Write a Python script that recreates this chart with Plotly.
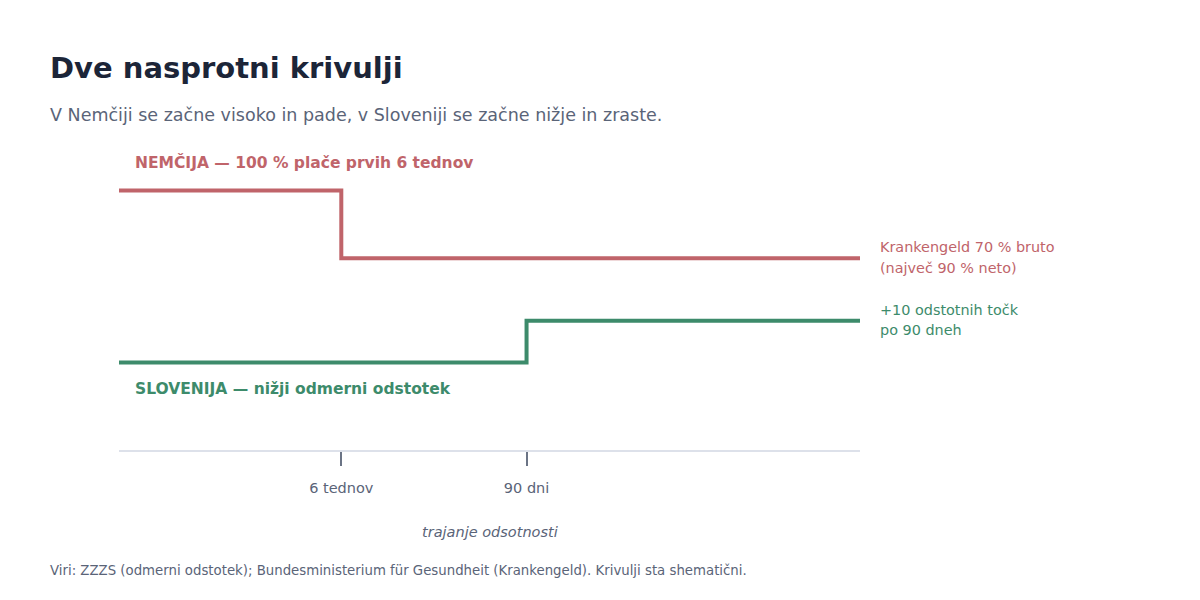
import plotly.graph_objects as go

# schematic time axis (not to scale)
x_pos = [0, 30, 55, 100]
tick_vals = [30, 55]
tick_text = ["6 tednov", "90 dni"]

de_x = [0, 30, 100]
de_y = [99.5, 73.5, 73.5]
si_x = [0, 55, 100]
si_y = [33.5, 49.5, 49.5]

de_note = ["Krankengeld 70 % bruto", "(največ 90 % neto)"]
si_note = ["+10 odstotnih točk", "po 90 dneh"]

RED = "#c0646a"
GREEN = "#3d8b6b"
GREY = "#5a6478"
FONT = "DejaVu Sans"

fig = go.Figure()
fig.add_trace(go.Scatter(x=de_x, y=de_y, mode="lines", line_shape="hv",
                         line=dict(color=RED, width=4), hoverinfo="skip"))
fig.add_trace(go.Scatter(x=si_x, y=si_y, mode="lines", line_shape="hv",
                         line=dict(color=GREEN, width=4), hoverinfo="skip"))

# page body adds an 8px offset, so margins are shifted to compensate
fig.update_layout(
    width=1200, height=600,
    margin=dict(l=111, r=348, t=142, b=158),
    paper_bgcolor="white", plot_bgcolor="white",
    showlegend=False,
    font=dict(family=FONT, color=GREY),
)
fig.update_xaxes(range=[x_pos[0], x_pos[-1]], tickvals=tick_vals, ticktext=tick_text,
                 showgrid=False, zeroline=False, showline=True, linecolor="#dde1ea",
                 linewidth=2, ticks="outside", ticklen=14, tickwidth=2, tickcolor="#6b7485",
                 ticklabelstandoff=10, tickfont=dict(size=14.5, color=GREY))
fig.update_yaxes(range=[0, 115], visible=False)

anns = [
    dict(text="<b>Dve nasprotni krivulji</b>", x=0, xshift=-71, y=1, yshift=82,
         font=dict(size=29, color="#1c2538")),
    dict(text="V Nemčiji se začne visoko in pade, v Sloveniji se začne nižje in zraste.",
         x=0, xshift=-71, y=1, yshift=35, font=dict(size=17.5, color=GREY)),
    dict(text="<b>NEMČIJA — 100 % plače prvih 6 tednov</b>", x=0, xshift=14, y=1, yshift=-12,
         font=dict(size=15.5, color=RED)),
    dict(text="<b>SLOVENIJA — nižji odmerni odstotek</b>", x=0, xshift=14, y=0, yshift=61,
         font=dict(size=15.5, color=GREEN)),
    dict(text=de_note[0], x=1, xshift=18, y=0, yshift=203, font=dict(size=14.4, color=RED)),
    dict(text=de_note[1], x=1, xshift=18, y=0, yshift=182, font=dict(size=14.4, color=RED)),
    dict(text=si_note[0], x=1, xshift=18, y=0, yshift=140, font=dict(size=14.4, color=GREEN)),
    dict(text=si_note[1], x=1, xshift=18, y=0, yshift=120, font=dict(size=14.4, color=GREEN)),
    dict(text="<i>trajanje odsotnosti</i>", x=0.5, xanchor="center", y=0, yshift=-82,
         font=dict(size=14.5, color=GREY)),
    dict(text="Viri: ZZZS (odmerni odstotek); Bundesministerium für Gesundheit (Krankengeld). "
              "Krivulji sta shematični.", x=0, xshift=-71, y=0, yshift=-120,
         font=dict(size=13.3, color=GREY)),
]
for a in anns:
    a.setdefault("xanchor", "left")
    fig.add_annotation(xref="paper", yref="paper", yanchor="middle", showarrow=False,
                       align="left", **a)

fig.write_html("out.html")
